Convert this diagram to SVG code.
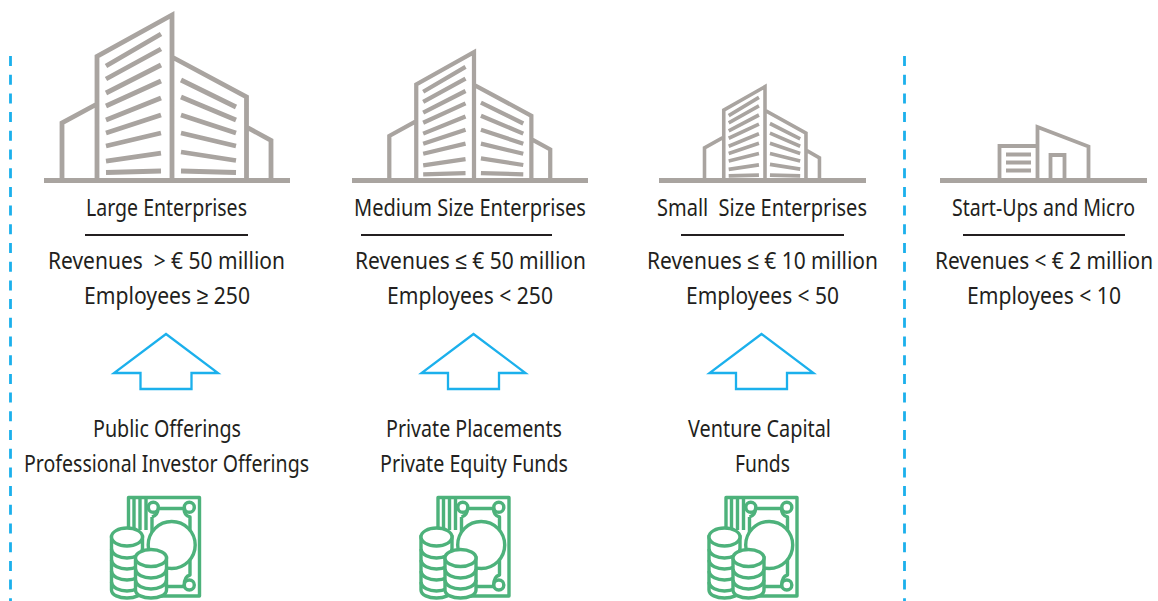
<svg xmlns="http://www.w3.org/2000/svg" width="1158" height="601" viewBox="0 0 1158 601">
<style>
.t{font-family:"Noto Sans","Liberation Sans",sans-serif;font-size:24px;fill:#231f20;white-space:pre}
.g{fill:none;stroke:#a9a4a0;stroke-linejoin:miter;stroke-linecap:butt}
.ground{stroke:#a9a4a0;stroke-width:4.800;fill:none}
.rule{stroke:#231f20;stroke-width:2;fill:none}
.up{fill:#fff;stroke:#1bb0ec;stroke-width:2.300;stroke-linejoin:miter}
.dash{fill:none;stroke:#1bb0ec;stroke-width:2.800;stroke-dasharray:10 8.700}
.m{fill:none;stroke:#4db27b;stroke-width:3.400;stroke-linejoin:round}
.c{fill:#fff;stroke:#4db27b;stroke-width:3.400}
</style>
<defs>
<g id="tower" class="g">
<path d="M62 180V123L97 104M97 180V56.500L172 15V180M172 57L246.500 97V180M246.500 127L271 140.500V180"/>
<path d="M106 66L161 34M106 79L161 49M106 93L161 65M106 106L161 81M106 120L161 98M106 133L161 115M106 146L161 133M106 161L161 153M106 172.500L161 171M181 80L236 107M181 97L236 120M181 115L236 133M181 133L236 146M181 152L236 160.500M181 171L236 172.500"/>
</g>
<g id="money">
<path class="m" d="M128.500 540V497.500H199.500V596H160"/>
<path class="m" d="M134 530V497.500M140 530V497.500M146 530V497.500"/>
<path class="m" d="M158 508.500H184C184 513 186 516 190 517V575C186 576 184 581 184 586.500H165M152 517V537M152 517C155 516 158 513 158 508.500"/>
<circle class="c" cx="153.300" cy="507.300" r="5"/>
<circle class="c" cx="189.300" cy="507.300" r="5"/>
<circle class="c" cx="189.300" cy="585" r="5"/>
<circle class="c" cx="171.700" cy="545" r="23.500"/>
<path class="c" d="M111.500 537V590C111.500 595 119 598 127 598C135 598 142.500 595 142.500 590V537Z"/>
<path class="m" d="M111.500 549C112 555 120 558 127 558S142 555 142.500 549M111.500 560C112 566 120 569 127 569S142 566 142.500 560M111.500 571C112 577 120 580 127 580S142 577 142.500 571M111.500 582C112 588 120 591 127 591S142 588 142.500 582"/>
<ellipse class="c" cx="127" cy="537" rx="15.500" ry="9"/>
<path class="c" d="M135.500 558V590C135.500 595 143 598 151 598C159 598 166.500 595 166.500 590V558Z"/>
<path class="m" d="M135.500 569C136 575 144 578 151 578S166 575 166.500 569M135.500 580C136 586 144 589 151 589S166 586 166.500 580"/>
<ellipse class="c" cx="151" cy="558" rx="15.500" ry="8.500"/>
</g>
<path id="arrow" class="up" d="M0 0L52 39H25.500V55H-25.500V39H-52Z"/>
</defs>
<g id="connectors">
<path class="dash" d="M10.500 56V601"/>
<path class="dash" d="M904.500 56V601"/>
<use href="#arrow" x="166" y="334"/>
<use href="#arrow" x="473.500" y="334"/>
<use href="#arrow" x="761.500" y="334"/>
</g>
<g id="large">
<use href="#tower" style="stroke-width:4.800"/>
<path class="ground" d="M44 180.500H290"/>
<text class="t" transform="translate(86 215.500) scale(.78 1)" textLength="206.400" lengthAdjust="spacingAndGlyphs">Large Enterprises</text>
<path class="rule" d="M85 235H248"/>
<text class="t" transform="translate(48 268.500) scale(.78 1)" textLength="303.800" lengthAdjust="spacingAndGlyphs">Revenues  &gt; € 50 million</text>
<text class="t" transform="translate(84 303.500) scale(.78 1)" textLength="212.800" lengthAdjust="spacingAndGlyphs">Employees ≥ 250</text>
<text class="t" transform="translate(93 436.500) scale(.78 1)" textLength="189.700" lengthAdjust="spacingAndGlyphs">Public Offerings</text>
<text class="t" transform="translate(24 471.500) scale(.78 1)" textLength="365.400" lengthAdjust="spacingAndGlyphs">Professional Investor Offerings</text>
<use href="#money" x="0" y="0"/>
</g>
<g id="medium">
<use href="#tower" transform="translate(474 180.500) scale(.77 .775) translate(-172 -180.500)" style="stroke-width:5.500"/>
<path class="ground" d="M352 180.500H588"/>
<text class="t" transform="translate(354 215.500) scale(.78 1)" textLength="297.400" lengthAdjust="spacingAndGlyphs">Medium Size Enterprises</text>
<path class="rule" d="M361 235H552"/>
<text class="t" transform="translate(355 268.500) scale(.78 1)" textLength="296.200" lengthAdjust="spacingAndGlyphs">Revenues ≤ € 50 million</text>
<text class="t" transform="translate(387 303.500) scale(.78 1)" textLength="212.800" lengthAdjust="spacingAndGlyphs">Employees &lt; 250</text>
<text class="t" transform="translate(386 436.500) scale(.78 1)" textLength="225.600" lengthAdjust="spacingAndGlyphs">Private Placements</text>
<text class="t" transform="translate(380 471.500) scale(.78 1)" textLength="241" lengthAdjust="spacingAndGlyphs">Private Equity Funds</text>
<use href="#money" x="309.500" y="0"/>
</g>
<g id="small">
<use href="#tower" transform="translate(765 180.500) scale(.55 .567) translate(-172 -180.500)" style="stroke-width:6.500"/>
<path class="ground" d="M659 180.500H866"/>
<text class="t" transform="translate(657 215.500) scale(.78 1)" textLength="269.200" lengthAdjust="spacingAndGlyphs">Small  Size Enterprises</text>
<path class="rule" d="M681 235H844"/>
<text class="t" transform="translate(647 268.500) scale(.78 1)" textLength="296.200" lengthAdjust="spacingAndGlyphs">Revenues ≤ € 10 million</text>
<text class="t" transform="translate(686 303.500) scale(.78 1)" textLength="196.200" lengthAdjust="spacingAndGlyphs">Employees &lt; 50</text>
<text class="t" transform="translate(688 436.500) scale(.78 1)" textLength="183.300" lengthAdjust="spacingAndGlyphs">Venture Capital</text>
<text class="t" transform="translate(735 471.500) scale(.78 1)" textLength="70.500" lengthAdjust="spacingAndGlyphs">Funds</text>
<use href="#money" x="597.500" y="0"/>
</g>
<g id="startups">
<path class="g" style="stroke-width:3.800" d="M999.500 180V146H1037M1037.500 180V127L1088.500 146.500V180M1050.500 180V155H1064.500V180"/>
<path class="g" style="stroke-width:3.800" d="M1006 154.500H1031M1006 162.500H1031M1006 170.500H1031"/>
<path class="ground" d="M940 180.500H1147"/>
<text class="t" transform="translate(952 215.500) scale(.78 1)" textLength="234.600" lengthAdjust="spacingAndGlyphs">Start-Ups and Micro</text>
<path class="rule" d="M963 235H1125"/>
<text class="t" transform="translate(935 268.500) scale(.78 1)" textLength="279.500" lengthAdjust="spacingAndGlyphs">Revenues &lt; € 2 million</text>
<text class="t" transform="translate(967 303.500) scale(.78 1)" textLength="197.400" lengthAdjust="spacingAndGlyphs">Employees &lt; 10</text>
</g>
</svg>
